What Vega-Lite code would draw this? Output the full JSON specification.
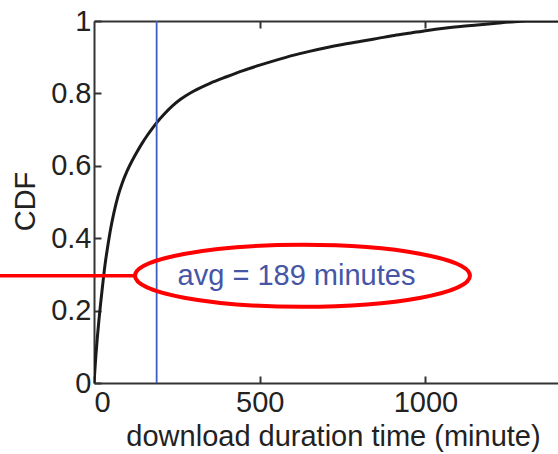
{
  "$schema": "https://vega.github.io/schema/vega-lite/v6.json",
  "autosize": "none",
  "padding": {"left": 94, "top": 21, "right": 0, "bottom": 71},
  "width": 464,
  "height": 362,
  "background": "white",
  "config": {
    "view": {"stroke": null},
    "font": "Liberation Sans",
    "axis": {
      "grid": false,
      "domainColor": "#333333",
      "domainWidth": 2,
      "tickColor": "#333333",
      "tickWidth": 2,
      "tickSize": -7,
      "labelFont": "Liberation Sans",
      "labelFontSize": 29,
      "labelColor": "#222222",
      "titleFont": "Liberation Sans",
      "titleFontSize": 29,
      "titleFontWeight": "normal",
      "titleColor": "#222222"
    }
  },
  "datasets": {
    "cdf": [
      {"minutes": 0, "cdf": 0},
      {"minutes": 3, "cdf": 0.04},
      {"minutes": 6, "cdf": 0.08},
      {"minutes": 10, "cdf": 0.125},
      {"minutes": 15, "cdf": 0.175},
      {"minutes": 20, "cdf": 0.22},
      {"minutes": 26, "cdf": 0.27},
      {"minutes": 33, "cdf": 0.325},
      {"minutes": 41, "cdf": 0.375},
      {"minutes": 50, "cdf": 0.425},
      {"minutes": 60, "cdf": 0.47},
      {"minutes": 72, "cdf": 0.515},
      {"minutes": 85, "cdf": 0.552},
      {"minutes": 100, "cdf": 0.586},
      {"minutes": 115, "cdf": 0.614},
      {"minutes": 130, "cdf": 0.639},
      {"minutes": 145, "cdf": 0.662},
      {"minutes": 160, "cdf": 0.683},
      {"minutes": 175, "cdf": 0.702},
      {"minutes": 190, "cdf": 0.72},
      {"minutes": 210, "cdf": 0.741},
      {"minutes": 235, "cdf": 0.764},
      {"minutes": 260, "cdf": 0.783},
      {"minutes": 300, "cdf": 0.806},
      {"minutes": 350, "cdf": 0.828},
      {"minutes": 400, "cdf": 0.846},
      {"minutes": 450, "cdf": 0.863},
      {"minutes": 500, "cdf": 0.878},
      {"minutes": 550, "cdf": 0.892},
      {"minutes": 600, "cdf": 0.905},
      {"minutes": 650, "cdf": 0.916},
      {"minutes": 700, "cdf": 0.926},
      {"minutes": 750, "cdf": 0.935},
      {"minutes": 806, "cdf": 0.944},
      {"minutes": 856, "cdf": 0.952},
      {"minutes": 906, "cdf": 0.96},
      {"minutes": 956, "cdf": 0.967},
      {"minutes": 1006, "cdf": 0.974},
      {"minutes": 1056, "cdf": 0.98},
      {"minutes": 1106, "cdf": 0.985},
      {"minutes": 1156, "cdf": 0.989},
      {"minutes": 1206, "cdf": 0.993},
      {"minutes": 1255, "cdf": 0.997},
      {"minutes": 1305, "cdf": 1.0},
      {"minutes": 1400, "cdf": 1.0}
    ],
    "average": [{"minutes": 189}],
    "callout": [{"from": -284, "to": 124, "level": 0.296, "center": 629, "textAt": 611, "label": "avg = 189 minutes"}]
  },
  "resolve": {"axis": {"x": "independent"}},
  "layer": [
    {
      "data": {"name": "cdf"},
      "mark": {"type": "line", "color": "#1a1a1a", "strokeWidth": 3, "clip": true, "interpolate": "monotone"},
      "encoding": {
        "x": {
          "field": "minutes", "type": "quantitative",
          "scale": {"domain": [0, 1400], "nice": false, "zero": false},
          "axis": {
            "orient": "bottom",
            "values": [0, 500, 1000],
            "format": "d",
            "labelPadding": 12,
            "title": "download duration time (minute)",
            "titleX": 239,
            "titleY": 62,
            "titleBaseline": "alphabetic",
            "titleAlign": "center"
          }
        },
        "y": {
          "field": "cdf", "type": "quantitative",
          "scale": {"domain": [0, 1], "nice": false},
          "axis": {
            "values": [0, 0.2, 0.4, 0.6, 0.8, 1],
            "format": "~g",
            "labelPadding": 10,
            "title": "CDF",
            "titleX": -69,
            "titleY": 180,
            "titleAngle": -90,
            "titleAlign": "center",
            "titleBaseline": "middle"
          }
        }
      }
    },
    {
      "data": {"name": "cdf"},
      "mark": {"type": "line", "opacity": 0},
      "encoding": {
        "x": {
          "field": "minutes", "type": "quantitative",
          "axis": {"orient": "top", "values": [500, 1000], "labels": false, "title": null}
        },
        "y": {"field": "cdf", "type": "quantitative"}
      }
    },
    {
      "data": {"name": "average"},
      "mark": {"type": "rule", "color": "#3f5fbf", "strokeWidth": 1.8},
      "encoding": {
        "x": {"field": "minutes", "type": "quantitative", "axis": null}
      }
    },
    {
      "data": {"name": "callout"},
      "mark": {"type": "rule", "color": "#ff0000", "strokeWidth": 3.5, "clip": false},
      "encoding": {
        "x": {"field": "from", "type": "quantitative", "axis": null},
        "x2": {"field": "to"},
        "y": {"field": "level", "type": "quantitative"}
      }
    },
    {
      "data": {"name": "callout"},
      "mark": {
        "type": "point",
        "shape": "M -1 0 A 1 0.185 0 1 1 1 0 A 1 0.185 0 1 1 -1 0 Z",
        "size": 112225,
        "filled": false,
        "stroke": "#ff0000",
        "strokeWidth": 4,
        "opacity": 1,
        "clip": false
      },
      "encoding": {
        "x": {"field": "center", "type": "quantitative", "axis": null},
        "y": {"field": "level", "type": "quantitative"}
      }
    },
    {
      "data": {"name": "callout"},
      "mark": {
        "type": "text",
        "font": "Liberation Sans",
        "fontSize": 29,
        "color": "#4655a5",
        "align": "center",
        "baseline": "middle"
      },
      "encoding": {
        "x": {"field": "textAt", "type": "quantitative", "axis": null},
        "y": {"field": "level", "type": "quantitative"},
        "text": {"field": "label"}
      }
    }
  ]
}
